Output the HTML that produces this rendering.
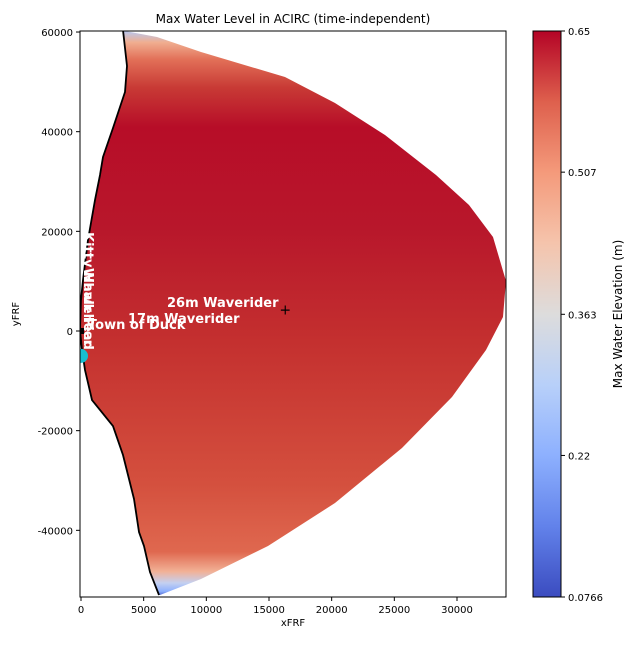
<!DOCTYPE html>
<html><head><meta charset="utf-8"><style>
body{margin:0;background:#fff;}
svg text{font-family:"DejaVu Sans","Liberation Sans",sans-serif;}
</style></head><body>
<svg width="640" height="640" viewBox="0 0 640 640" xmlns="http://www.w3.org/2000/svg">
<defs>
<linearGradient id="fillg" gradientUnits="userSpaceOnUse" x1="0" y1="31" x2="0" y2="597">
<stop offset="0" stop-color="#b8c8f0"/>
<stop offset="0.02" stop-color="#f0ae90"/>
<stop offset="0.05" stop-color="#e27058"/>
<stop offset="0.1" stop-color="#c83a35"/>
<stop offset="0.17" stop-color="#b70d28"/>
<stop offset="0.35" stop-color="#b8172b"/>
<stop offset="0.55" stop-color="#c4302f"/>
<stop offset="0.8" stop-color="#d4503e"/>
<stop offset="0.92" stop-color="#df684f"/>
<stop offset="0.955" stop-color="#f2b196"/>
<stop offset="0.975" stop-color="#c4d0f0"/>
<stop offset="0.99" stop-color="#8db0fe"/>
<stop offset="1" stop-color="#3b4cc0"/>
</linearGradient>
<linearGradient id="cbg" x1="0" y1="1" x2="0" y2="0">
<stop offset="0" stop-color="#3b4cc0"/>
<stop offset="0.125" stop-color="#6282ea"/>
<stop offset="0.25" stop-color="#8db0fe"/>
<stop offset="0.375" stop-color="#b8d0f9"/>
<stop offset="0.5" stop-color="#dddcdc"/>
<stop offset="0.625" stop-color="#f5c4ac"/>
<stop offset="0.75" stop-color="#f49a7b"/>
<stop offset="0.875" stop-color="#de604d"/>
<stop offset="1" stop-color="#b40426"/>
</linearGradient>
<clipPath id="plotclip"><rect x="80" y="31" width="426" height="566"/></clipPath>
</defs>
<text x="293" y="23" font-size="12" text-anchor="middle">Max Water Level in ACIRC (time-independent)</text>
<g id="plot" clip-path="url(#plotclip)"></g>
<rect x="80" y="31" width="426" height="566" fill="none" stroke="#000" stroke-width="1"/>
<g id="axes"></g>
<text x="293" y="626" font-size="10" text-anchor="middle">xFRF</text>
<text transform="translate(19,314) rotate(-90)" font-size="10" text-anchor="middle">yFRF</text>
<rect x="533" y="31" width="28" height="566" fill="url(#cbg)" stroke="#000" stroke-width="1"/>
<g id="cb"></g>
<text transform="translate(622,314) rotate(-90)" font-size="12" text-anchor="middle">Max Water Elevation (m)</text>
</svg>
<script>
const xTicks=[0,5000,10000,15000,20000,25000,30000];
const yTicks=[-40000,-20000,0,20000,40000,60000];
const cbTicks=["0.0766","0.22","0.363","0.507","0.65"];
const cbVals=[0.0766,0.22,0.363,0.507,0.65];
const domainX=[3110,6064,9575,16277,20266,24256,28325,30958,32873,33910,33670,32314,29601,25612,20266,14920,9575,6303];
const domainY=[60400,59000,55990,50970,45755,39330,31300,25290,18860,10030,2810,-3810,-13240,-23480,-34520,-43150,-49770,-52980];
const coastX=[3350,3670,3510,2553,1755,1516,1117,558,160,0,-80,80,320,878,1516,2553,3350,4229,4628,5027,5505,6224];
const coastY=[60400,53180,47960,40740,34920,31300,26290,18260,10230,6220,200,-3810,-7830,-13850,-15850,-19070,-24880,-33710,-40340,-43150,-48370,-52980];
const sx=v=>81+v*0.012533;
const sy=v=>331-v*0.004983;
const cy=v=>597-(v-0.0766)/(0.65-0.0766)*566;
const NS="http://www.w3.org/2000/svg";
function mk(t,a,p){const e=document.createElementNS(NS,t);for(const k in a)e.setAttribute(k,a[k]);p.appendChild(e);return e;}
const plot=document.getElementById('plot'),axes=document.getElementById('axes'),cb=document.getElementById('cb');
let pts=[];
for(let i=0;i<coastX.length;i++)pts.push(sx(coastX[i])+','+sy(coastY[i]));
for(let i=domainX.length-1;i>=0;i--)pts.push(sx(domainX[i])+','+sy(domainY[i]));
const poly=mk('polygon',{points:pts.join(' '),fill:'url(#fillg)','stroke-linejoin':'round'},plot);


const cl=mk('polyline',{points:coastX.map((x,i)=>sx(x)+','+sy(coastY[i])).join(' '),fill:'none',stroke:'#000','stroke-width':1.8,'stroke-linejoin':'round'},plot);


const cyan=mk('circle',{cx:sx(0),cy:sy(-5000),r:7,fill:'#17becf'},plot);


const blk=mk('rect',{x:sx(0)-3,y:sy(0)-3,width:6,height:6,fill:'#000'},plot);


const plus=mk('text',{x:sx(16300),y:sy(4300)+5,'font-size':14,'text-anchor':'middle',fill:'#000'},plot);
plus.textContent='+';


const labels=[["26m Waverider",167,307],["17m Waverider",128,323],["Town of Duck",88,329]];
labels.forEach(l=>{const t=mk('text',{x:l[1],y:l[2],'font-size':13,'font-weight':'bold',fill:'#fff'},plot);t.textContent=l[0];

});
[["Kitty Hawk Pier",232],["Whalehead",268]].forEach(s=>{const t=mk('text',{transform:'translate(84,'+s[1]+') rotate(90)','font-size':13,'font-weight':'bold',fill:'#fff'},plot);t.textContent=s[0];

});
xTicks.forEach(v=>{const x=sx(v);mk('line',{x1:x,y1:597,x2:x,y2:601,stroke:'#000'},axes);
const t=mk('text',{x:x,y:613,'font-size':10,'text-anchor':'middle'},axes);t.textContent=v;

});
yTicks.forEach(v=>{const y=sy(v);mk('line',{x1:76,y1:y,x2:80,y2:y,stroke:'#000'},axes);
const t=mk('text',{x:73,y:y+4,'font-size':10,'text-anchor':'end'},axes);t.textContent=v;

});
cbVals.forEach((v,i)=>{const y=cy(v);mk('line',{x1:561,y1:y,x2:565,y2:y,stroke:'#000'},cb);
const t=mk('text',{x:568,y:y+4,'font-size':10},cb);t.textContent=cbTicks[i];

});
</script>
</body></html>
